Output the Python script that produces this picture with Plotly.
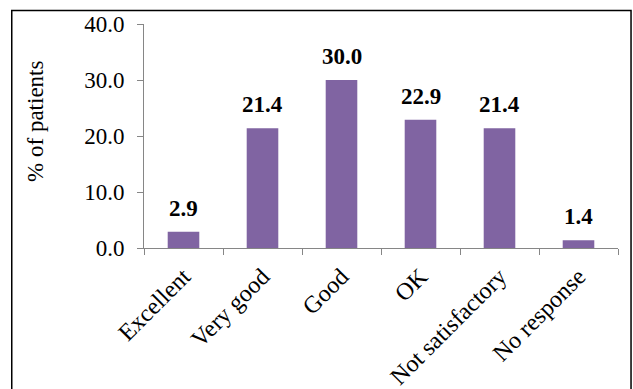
import plotly.graph_objects as go

categories = ["Excellent", "Very good", "Good", "OK", "Not satisfactory", "No response"]
values = [2.9, 21.4, 30.0, 22.9, 21.4, 1.4]
y_ticks = [0, 10, 20, 30, 40]

FONT = "Liberation Serif, Times New Roman, serif"
AXIS = "#868686"
FS = 23

fig = go.Figure()
fig.add_trace(go.Bar(
    x=categories, y=values,
    marker=dict(color="#8064A2", line=dict(width=0)),
    hoverinfo="skip",
))

for c, v in zip(categories, values):
    fig.add_annotation(x=c, y=v, text=f"<b>{v:.1f}</b>", showarrow=False,
                       yanchor="bottom", yshift=9,
                       font=dict(family=FONT, size=FS, color="black"))

fig.add_annotation(xref="paper", yref="paper", x=-0.228, y=0.567,
                   xanchor="center", yanchor="middle",
                   text="% of patients", textangle=-90, showarrow=False,
                   font=dict(family=FONT, size=FS, color="black"))

# outer frame
fig.add_shape(type="rect", xref="paper", yref="paper",
              x0=-0.279, x1=1.0275, y0=-0.75, y1=1.06,
              line=dict(color="black", width=1.5), layer="above")

fig.update_layout(
    width=633, height=389,
    margin=dict(l=144, r=15, t=24, b=141),
    paper_bgcolor="white", plot_bgcolor="white",
    bargap=0.6, showlegend=False,
    font=dict(family=FONT, size=FS, color="black"),
)
fig.update_xaxes(
    type="category", showline=True, linecolor=AXIS, linewidth=1,
    ticks="outside", tickson="boundaries", ticklen=6, tickcolor=AXIS,
    tickangle=-45, showgrid=False, zeroline=False, ticklabelstandoff=4,
    automargin=False,
    tickfont=dict(family=FONT, size=24, color="black"),
)
fig.update_yaxes(
    range=[0, 40], tickvals=y_ticks, tickformat=".1f",
    showline=True, linecolor=AXIS, linewidth=1,
    ticks="outside", ticklen=6, tickcolor=AXIS, ticklabelstandoff=8,
    showgrid=False, zeroline=False, automargin=False,
    tickfont=dict(family=FONT, size=FS, color="black"),
)

fig.write_html("out.html")
